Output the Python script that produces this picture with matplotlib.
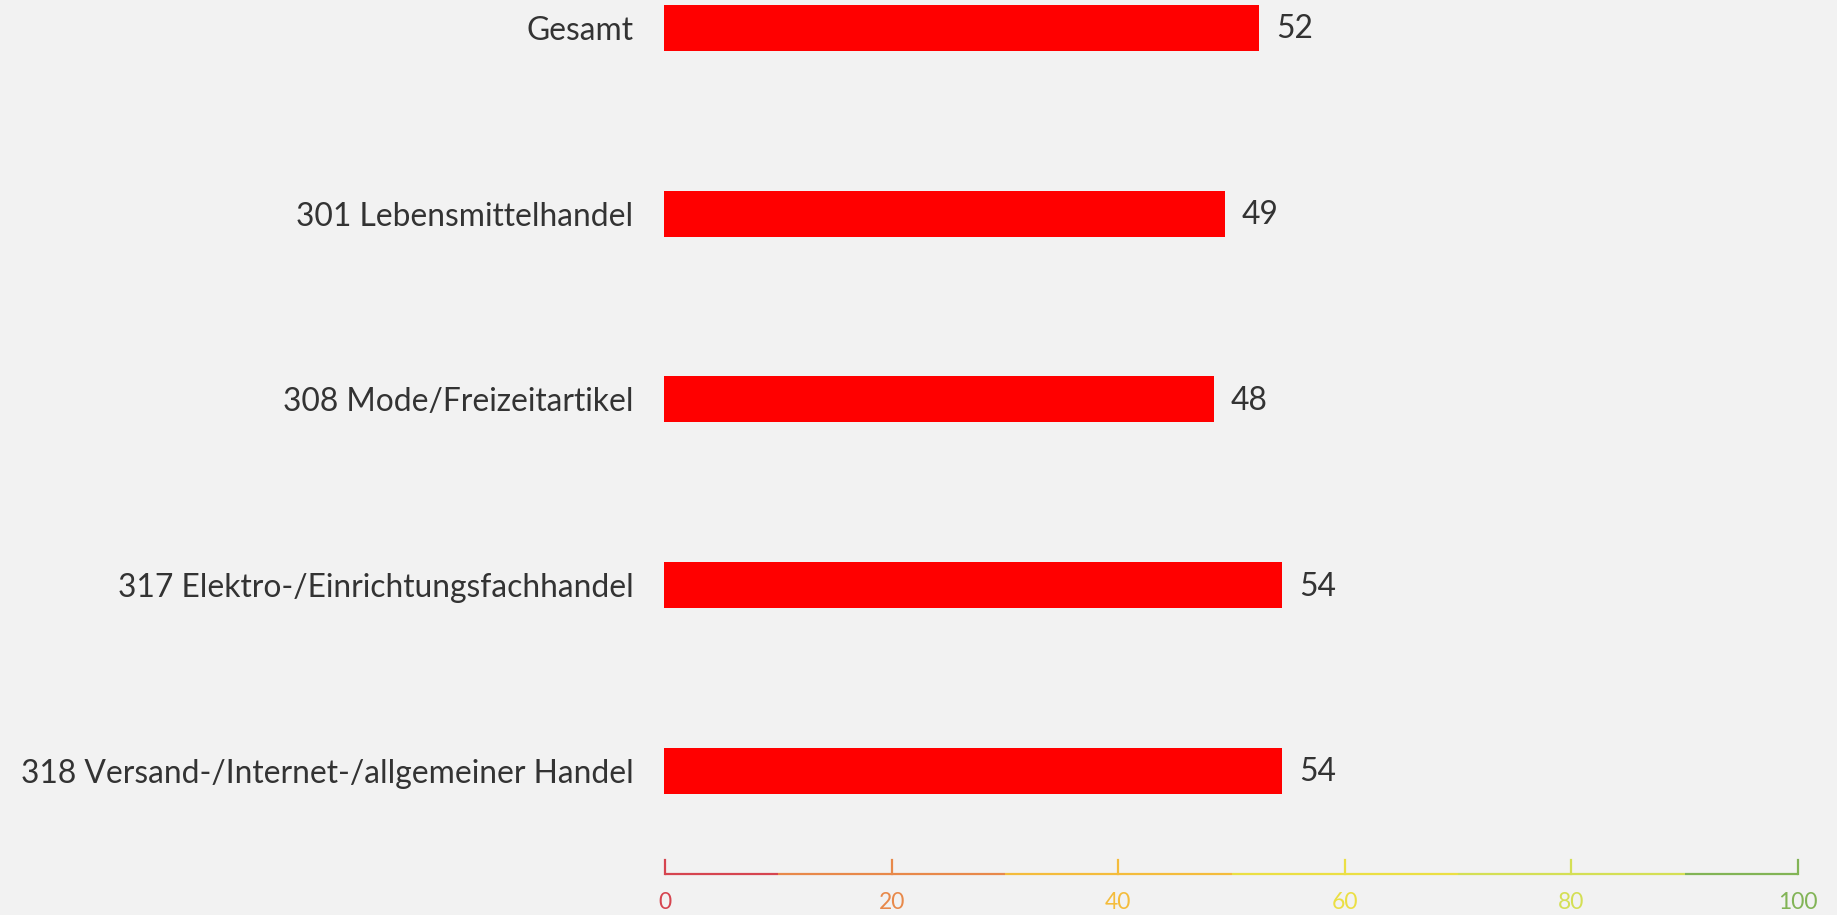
import numpy as np
import matplotlib.pyplot as plt

categories = ["Gesamt", "301 Lebensmittelhandel", "308 Mode/Freizeitartikel",
              "317 Elektro-/Einrichtungsfachhandel", "318 Versand-/Internet-/allgemeiner Handel"]
values = [52, 49, 48, 54, 54]

scale_ticks = [0, 20, 40, 60, 80, 100]
scale_bounds = [0, 10, 30, 50, 70, 90, 100]
scale_colors = ["#d64550", "#e8894a", "#f4bc3c", "#ebdf44", "#d4df55", "#82b456"]
tick_colors = ["#d64550", "#e8894a", "#f4bc3c", "#ebdf44", "#d4df55", "#82b456"]

bg = "#f2f2f2"
txt = "#333333"
W, H = 1837, 915

plt.rcParams['font.family'] = ['Lato', 'DejaVu Sans']
fig = plt.figure(figsize=(W / 100, H / 100), dpi=100)
fig.patch.set_facecolor(bg)

# bar axes: pixel 664 -> 1809 for 0..100, top 0 -> 830
left, right = 664, 1809
top, bottom = 0, 830
ax = fig.add_axes([left / W, 1 - bottom / H, (right - left) / W, (bottom - top) / H])
ax.set_facecolor(bg)
step = 185.75
y = np.arange(len(categories))
ax.barh(y, values, height=46 / step, color="#ff0000", edgecolor="none")
ax.set_xlim(0, 100)
ax.set_ylim((bottom - 28) / step, -28 / step)
for s in ax.spines.values():
    s.set_visible(False)
ax.set_xticks([])
ax.set_yticks(y)
ax.set_yticklabels(categories, fontsize=22.9, color=txt)
ax.tick_params(axis='y', length=0, pad=22)
for yi, v in zip(y, values):
    ax.annotate(str(v), (v, yi), xytext=(12, -1), textcoords='offset points',
                va='center', ha='left', fontsize=22.9, color=txt)

# colored scale below
g0, g1 = 665, 1798
gy = 874
gax = fig.add_axes([g0 / W, 1 - gy / H, (g1 - g0) / W, 14 / H])
gax.set_xlim(0, 100)
gax.set_ylim(0, 1)
gax.axis('off')
for a, b, c in zip(scale_bounds[:-1], scale_bounds[1:], scale_colors):
    gax.plot([a, b], [0, 0], color=c, lw=1.6, solid_capstyle='butt', clip_on=False)
for t, c in zip(scale_ticks, tick_colors):
    gax.plot([t, t], [0, 1], color=c, lw=1.6, clip_on=False)
    gax.annotate(str(t), (t, 0), xytext=(0, -20.5), textcoords='offset points',
                 ha='center', va='center', fontsize=16.5, color=c)

fig.savefig("out.png", dpi=100, facecolor=bg)
